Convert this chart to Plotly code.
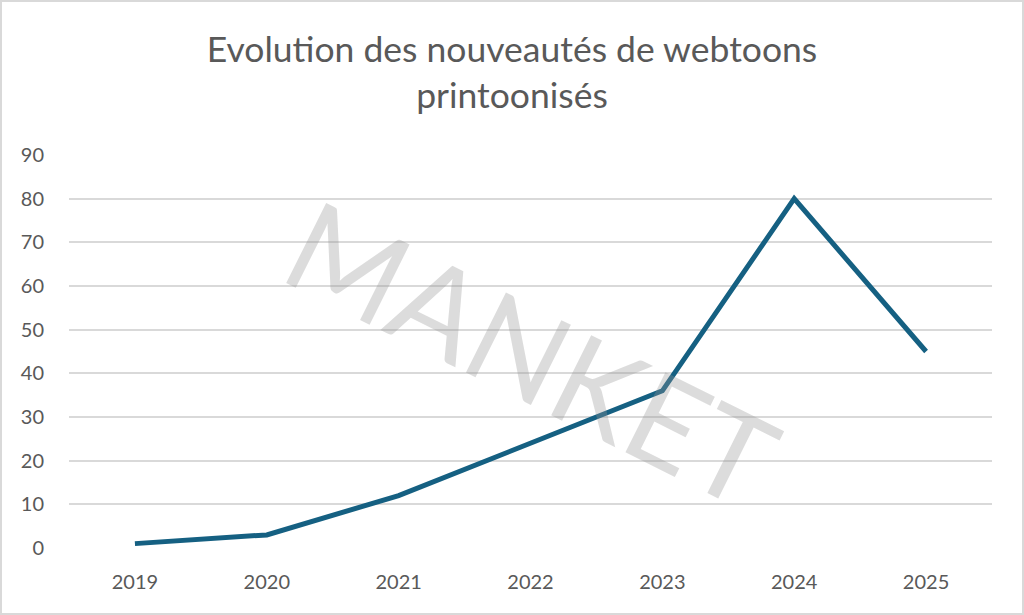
import plotly.graph_objects as go

years = ["2019", "2020", "2021", "2022", "2023", "2024", "2025"]
values = [1, 3, 12, 24, 36, 80, 45]
y_ticks = [0, 10, 20, 30, 40, 50, 60, 70, 80, 90]
title_text = "Evolution des nouveautés de webtoons<br>printoonisés"
watermark = "MANKET"

W, H = 1024, 615
L, R, T, B = 69, 32, 155, 67
pw, ph = W - L - R, H - T - B

fig = go.Figure()
fig.add_trace(go.Scatter(
    x=years, y=values, mode="lines",
    line=dict(color="#156082", width=5),
    hoverinfo="x+y", showlegend=False,
))

fig.add_annotation(
    text=watermark, xref="paper", yref="paper",
    x=(532 - L) / pw, y=(H - B - 352) / ph,
    showarrow=False, textangle=26.5,
    font=dict(family="Lato", size=125, color="rgba(150,150,150,0.33)"),
)

fig.add_shape(
    type="rect", xref="paper", yref="paper",
    x0=(1 - L) / pw, x1=(W - 1 - L) / pw,
    y0=(H - B - (H - 1)) / ph, y1=(H - B - 1) / ph,
    line=dict(color="#d9d9d9", width=2), fillcolor="rgba(0,0,0,0)", layer="below",
)

fig.update_layout(
    width=W, height=H,
    margin=dict(l=L, r=R, t=T, b=B),
    paper_bgcolor="white", plot_bgcolor="white",
    title=dict(text=title_text, x=0.5, xref="container", xanchor="center",
               y=1 - 62 / H, yanchor="middle", yref="container",
               font=dict(family="Lato", size=35.5, color="#595959")),
    font=dict(family="Lato", color="#595959"),
    xaxis=dict(type="category", range=[-0.5, 6.5], showgrid=False, zeroline=False,
               showline=False, ticks="outside", ticklen=16, tickcolor="rgba(0,0,0,0)",
               tickfont=dict(size=20, color="#595959")),
    yaxis=dict(range=[0, 90], tickvals=y_ticks, showgrid=True, gridcolor="#d9d9d9",
               gridwidth=1.5, zeroline=False, showline=False, ticks="outside",
               ticklen=20, tickcolor="rgba(0,0,0,0)",
               tickfont=dict(size=20, color="#595959")),
)

fig.write_html("out.html", config={"displayModeBar": False},
               post_script="document.body.style.margin='0';")
